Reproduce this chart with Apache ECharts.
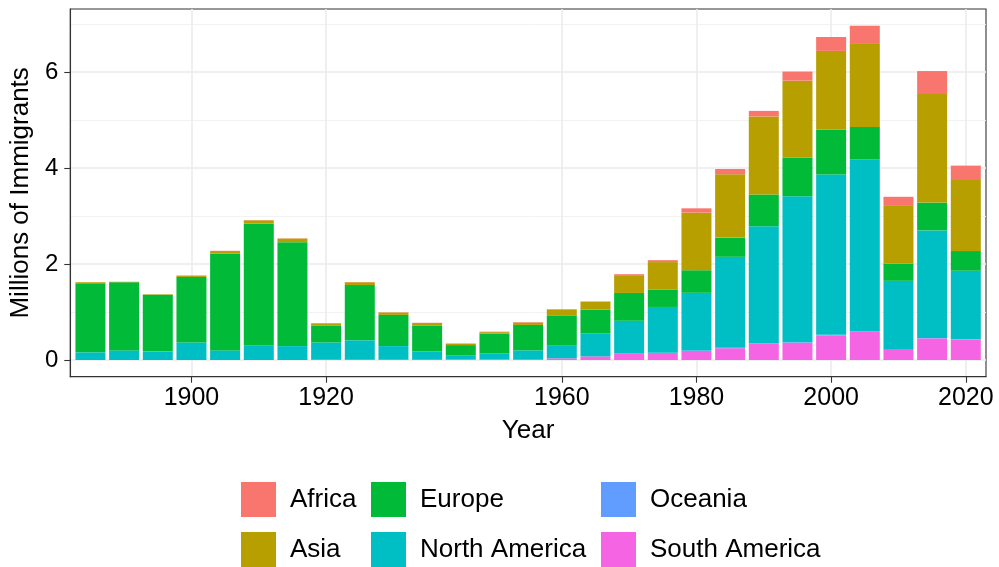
<!DOCTYPE html>
<html>
<head>
<meta charset="utf-8">
<script src="https://cdn.jsdelivr.net/npm/echarts@6/dist/echarts.min.js"></script>
<style>
html,body{margin:0;padding:0;background:#fff;}
#chart{width:999px;height:567px;}
</style>
</head>
<body>
<div id="chart"></div>
<script>
// Period (bin start year) for each bar
var years = [1885,1890,1895,1900,1905,1910,1915,1920,1925,1930,1935,1945,1950,1955,1960,1965,1970,1975,1980,1985,1990,1995,2000,2005,2010,2015,2020];
// Labelled ticks on the x axis
var tickYears = [1900,1920,1960,1980,2000,2020];
// Labelled ticks on the y axis
var yTicks = [0,2,4,6];
var yMinorTicks = [1,3,5,7];

// Millions of immigrants by region of origin
var southAmerica = [0,0,0,0,0,0,0,0.005,0.005,0.005,0.005,0.01,0.01,0.02,0.035,0.075,0.137,0.145,0.19,0.245,0.34,0.36,0.51,0.6,0.21,0.45,0.42];
var oceania      = [0,0,0,0,0,0,0,0,0,0,0,0,0,0,0,0,0,0.005,0.01,0.01,0.01,0.01,0.015,0.005,0.005,0.01,0.01];
var northAmerica = [0.16,0.2,0.18,0.365,0.2,0.31,0.29,0.36,0.405,0.285,0.175,0.09,0.13,0.18,0.275,0.475,0.68,0.955,1.2,1.895,2.435,3.04,3.34,3.58,1.435,2.24,1.43];
var europe       = [1.44,1.42,1.18,1.365,2.02,2.53,2.165,0.355,1.15,0.65,0.54,0.21,0.41,0.53,0.62,0.5,0.58,0.365,0.47,0.4,0.665,0.81,0.94,0.67,0.36,0.58,0.41];
var asia         = [0.02,0.01,0.01,0.03,0.05,0.07,0.075,0.04,0.06,0.05,0.05,0.03,0.03,0.05,0.12,0.16,0.37,0.57,1.2,1.32,1.625,1.6,1.635,1.73,1.2,2.26,1.48];
var africa       = [0,0,0,0,0.005,0.005,0.005,0.01,0.005,0.005,0.005,0.005,0.01,0.01,0.01,0.01,0.02,0.04,0.09,0.11,0.115,0.19,0.29,0.38,0.19,0.48,0.30];

var regions = ['Africa','Asia','Europe','North America','Oceania','South America'];
var colors = {
  'Africa':'#F8766D','Asia':'#B79F00','Europe':'#00BA38',
  'North America':'#00BFC4','Oceania':'#619CFF','South America':'#F564E3'
};
var seriesData = {
  'Africa':africa,'Asia':asia,'Europe':europe,
  'North America':northAmerica,'Oceania':oceania,'South America':southAmerica
};
// bottom-to-top stacking order (ggplot stacks reversed factor order)
var stackOrder = ['South America','Oceania','North America','Europe','Asia','Africa'];

var totals = years.map(function(_, i){
  return regions.reduce(function(s, r){ return s + seriesData[r][i]; }, 0);
});
var maxTotal = Math.max.apply(null, totals);
var yMin = -0.05 * maxTotal, yMax = 1.05 * maxTotal;

var xTickIdx = tickYears.map(function(y){ return years.indexOf(y); }).filter(function(i){ return i >= 0; });

var chart = echarts.init(document.getElementById('chart'), null, {renderer:'canvas'});

var fontFamily = 'Liberation Sans, Arial, sans-serif';

// value first so the stacked dimension is the value; position index second
var series = stackOrder.map(function(r){
  return {
    name: r,
    type: 'bar',
    stack: 'total',
    barWidth: 30,
    itemStyle: { color: colors[r] },
    encode: { x: 1, y: 0 },
    data: seriesData[r].map(function(v, i){ return [v, i]; }),
    yAxisIndex: 0
  };
});

function legendCol(names, left){
  return {
    data: names,
    orient: 'vertical',
    left: left,
    top: 482,
    padding: 0,
    itemWidth: 35,
    itemHeight: 35,
    itemGap: 15,
    icon: 'rect',
    selectedMode: false,
    textStyle: { fontSize: 26, color: '#000', fontFamily: fontFamily, padding: [0,0,0,9] }
  };
}

chart.setOption({
  animation: false,
  backgroundColor: '#fff',
  color: stackOrder.map(function(r){ return colors[r]; }),
  grid: {
    left: 68.3, right: 13, top: 9, bottom: 190.3,
    show: true, borderColor: '#333333', borderWidth: 1.1, backgroundColor: 'transparent'
  },
  legend: [
    legendCol(['Africa','Asia'], 241),
    legendCol(['Europe','North America'], 371),
    legendCol(['Oceania','South America'], 601)
  ],
  xAxis: {
    type: 'value',
    min: -0.6,
    max: years.length - 1 + 0.6,
    name: 'Year',
    nameLocation: 'middle',
    nameGap: 41,
    nameTextStyle: { fontSize: 26, color: '#000', fontFamily: fontFamily },
    axisLine: { show: true, onZero: false, lineStyle: { color: '#333333', width: 1.1 } },
    axisTick: { show: true, customValues: xTickIdx, length: 6, lineStyle: { color: '#333333', width: 1.1 } },
    axisLabel: {
      customValues: xTickIdx,
      margin: 9,
      fontSize: 25, color: '#000', fontFamily: fontFamily,
      formatter: function(v){ return String(years[Math.round(v)]); }
    },
    splitLine: { show: true, lineStyle: { color: '#ebebeb', width: 1.6 } }
  },
  yAxis: [{
    type: 'value',
    min: yMin, max: yMax,
    name: 'Millions of Immigrants',
    nameLocation: 'middle',
    nameGap: 33,
    nameRotate: 90,
    nameTextStyle: { fontSize: 26, color: '#000', fontFamily: fontFamily },
    axisLine: { show: true, onZero: false, lineStyle: { color: '#333333', width: 1.1 } },
    axisTick: { show: true, customValues: yTicks, length: 6, lineStyle: { color: '#333333', width: 1.1 } },
    axisLabel: {
      customValues: yTicks,
      margin: 12,
      fontSize: 24, color: '#000', fontFamily: fontFamily,
      formatter: function(v){ return String(Math.round(v)); }
    },
    splitLine: { show: true, lineStyle: { color: '#ebebeb', width: 1.6 } },
    z: 1
  }, {
    type: 'value',
    min: yMin, max: yMax,
    position: 'left',
    axisLine: { show: false, onZero: false },
    axisTick: { show: false, customValues: yMinorTicks },
    axisLabel: { show: false, customValues: yMinorTicks },
    splitLine: { show: true, lineStyle: { color: '#f0f0f0', width: 0.9 } },
    z: 0
  }],
  series: series
});
</script>
</body>
</html>
